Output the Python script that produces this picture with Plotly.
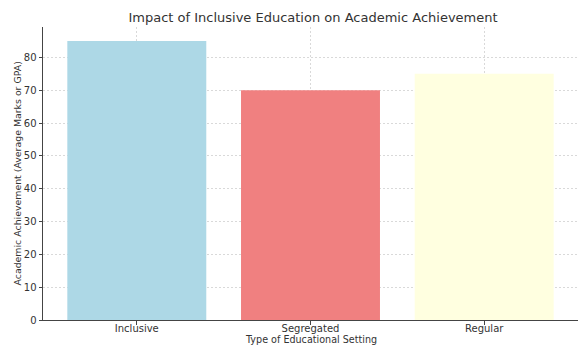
import plotly.graph_objects as go

categories = ["Inclusive", "Segregated", "Regular"]
values = [85, 70, 75]
colors = ["#ADD8E6", "#F08080", "#FFFFE0"]
y_ticks = [0, 10, 20, 30, 40, 50, 60, 70, 80]

fig = go.Figure(go.Bar(
    x=list(range(len(categories))), y=values,
    marker=dict(color=colors, line=dict(width=0)),
    width=0.8,
))

font = "DejaVu Sans"
fig.update_layout(
    width=579, height=345,
    margin=dict(l=43, r=1, t=27, b=25),
    plot_bgcolor="white", paper_bgcolor="white",
    showlegend=False,
    title=dict(text="Impact of Inclusive Education on Academic Achievement",
               x=0.5406, xanchor="center", y=0.95, yanchor="middle",
               font=dict(family=font, size=13, color="#333333")),
    font=dict(family=font, size=10, color="#333333"),
    annotations=[
        dict(text="Type of Educational Setting", xref="paper", yref="paper",
             x=0.5, y=0, yshift=-19, xanchor="center", yanchor="middle",
             showarrow=False, font=dict(family=font, size=9.6, color="#333333")),
        dict(text="Academic Achievement (Average Marks or GPA)", xref="paper", yref="paper",
             x=0, y=0.5, xshift=-26, xanchor="center", yanchor="middle", textangle=-90,
             showarrow=False, font=dict(family=font, size=9.4, color="#333333")),
    ],
)
fig.update_xaxes(
    range=[-0.54, 2.54], automargin=False,
    tickmode="array", tickvals=list(range(len(categories))), ticktext=categories,
    showline=True, linecolor="#444444", linewidth=1,
    ticks="outside", ticklen=3.5, tickcolor="#444444", ticklabelstandoff=-5,
    showgrid=True, gridcolor="#d9d9d9", griddash="2px,2px", gridwidth=0.8,
    layer="above traces", zeroline=False,
    tickfont=dict(size=10, color="#333333"),
)
fig.update_yaxes(
    range=[0, 89.25], automargin=False,
    tickmode="array", tickvals=y_ticks,
    showline=True, linecolor="#444444", linewidth=1,
    ticks="outside", ticklen=3.5, tickcolor="#444444",
    showgrid=True, gridcolor="#d9d9d9", griddash="2px,2px", gridwidth=0.8,
    layer="above traces", zeroline=False,
    tickfont=dict(size=10, color="#333333"),
)

fig.write_html("out.html")
